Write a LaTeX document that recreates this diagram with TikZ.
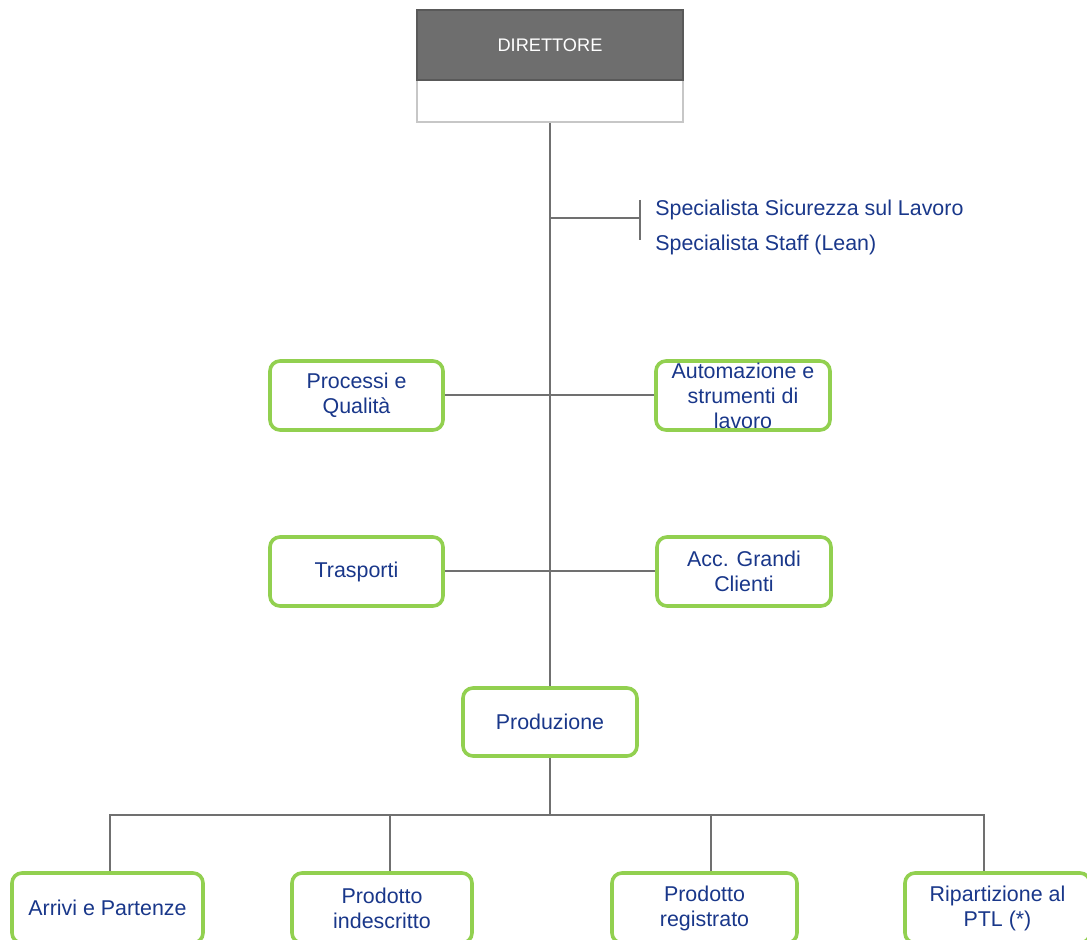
\documentclass[tikz,border=0pt]{standalone}
\usepackage{fontspec}
\setmainfont{Liberation Sans}
\definecolor{orgblue}{RGB}{25,55,138}
\definecolor{orggreen}{RGB}{146,208,80}
\definecolor{orgline}{RGB}{112,112,112}
\definecolor{dirfill}{RGB}{110,110,110}
\tikzset{
  unit/.style={draw=orggreen, line width=1.8pt, rounded corners=5pt, fill=white,
    text=orgblue, align=center, minimum height=34.5pt, inner sep=2pt,
    font=\fontsize{10.7}{12.5}\selectfont},
  link/.style={draw=orgline, line width=1pt},
  staff/.style={text=orgblue, anchor=west, inner sep=0pt,
    font=\fontsize{10.7}{12.5}\selectfont}
}
\begin{document}
\begin{tikzpicture}[x=0.5pt,y=-0.5pt]
\useasboundingbox (0,0) rectangle (1087,940);
% direttore
\node (dirlow) [draw=black!22, line width=1pt, fill=white, minimum width=133pt,
  minimum height=21pt, inner sep=0pt] at (550,101) {};
\node (dir) [draw=black!65, line width=1pt, fill=dirfill, text=white,
  minimum width=133pt, minimum height=35pt, inner sep=0pt,
  font=\fontsize{9.1}{11}\selectfont] at (550,45) {DIRETTORE};
% staff
\node (sic) [staff] at (655,210) {Specialista Sicurezza sul Lavoro};
\node (lean) [staff] at (655,245) {Specialista Staff (Lean)};
\coordinate (tick) at (640,218);
\coordinate (trunk) at (550,218);
\draw[link] (trunk) -- (tick) (640,200) -- (640,240);
% aree
\node (proc) [unit, minimum width=86.5pt] at (356.5,395.5) {Processi e\\Qualità};
\node (auto) [unit, minimum width=87pt, inner ysep=0pt] at (743,395.5) {Automazione e\\strumenti di\\lavoro};
\node (trasp) [unit, minimum width=86.5pt] at (356.5,571.5) {Trasporti};
\node (acc) [unit, minimum width=87pt] at (744,571.5) {Acc. Grandi\\Clienti};
\node (prod) [unit, minimum width=87pt, minimum height=34pt] at (550,722) {Produzione};
% reparti
\node (arr) [unit, minimum width=95.5pt, minimum height=35pt] at (107.5,908) {Arrivi e Partenze};
\node (ind) [unit, minimum width=90pt, minimum height=35pt] at (382,908) {Prodotto\\indescritto};
\node (reg) [unit, minimum width=92.5pt, minimum height=35pt, text depth=2pt] at (704.5,908) {Prodotto\\registrato};
\node (rip) [unit, minimum width=92.5pt, minimum height=35pt] at (997.5,908) {Ripartizione al\\PTL (*)};
% linee
\draw[link] (dirlow.south) -- (prod.north);
\draw[link] (proc.east) -- (auto.west);
\draw[link] (trasp.east) -- (acc.west);
\coordinate (bus) at (550,815);
\draw[link] (prod.south) -- (bus);
\draw[link] (bus) -| ([xshift=1pt]arr.north) (bus) -| ([xshift=4pt]ind.north)
  (bus) -| ([xshift=3pt]reg.north) (bus) -| ([xshift=-7pt]rip.north);
\end{tikzpicture}
\end{document}
